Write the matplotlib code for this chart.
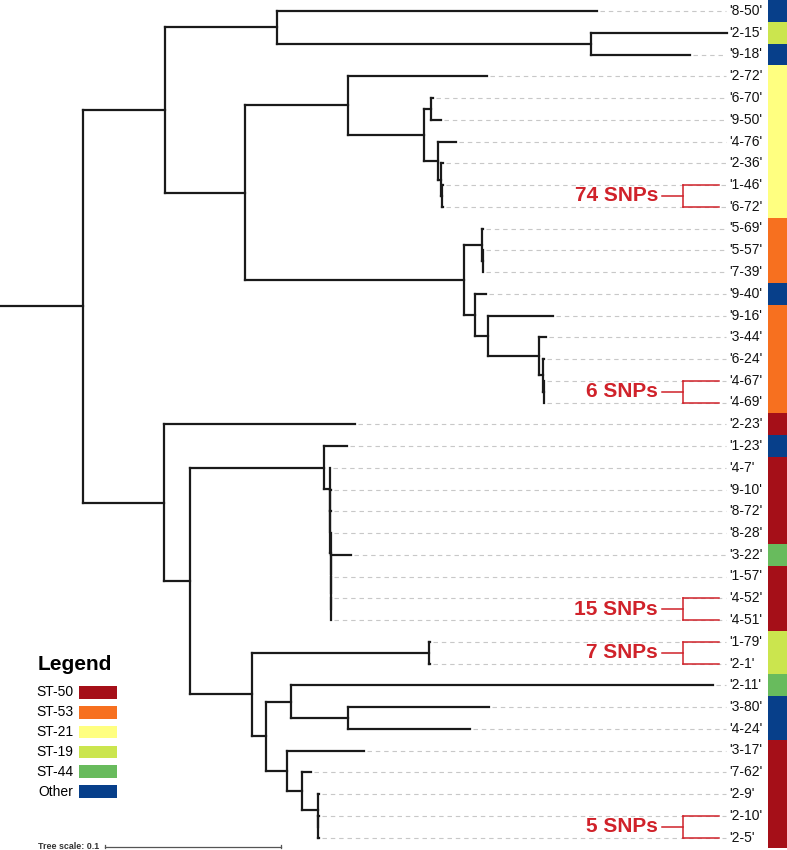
import matplotlib.pyplot as plt
from matplotlib.collections import LineCollection
from matplotlib.patches import Rectangle

plt.rcParams['font.family'] = ['Liberation Sans', 'DejaVu Sans']

# tree in newick, branch lengths in substitutions/site (tree scale bar = 0.1)
newick = """
((( 8-50:0.1818, (2-15:0.0773, 9-18:0.0563):0.1784 ):0.0639,
   (( 2-72:0.0790,
      (( 6-70:0.0011, 9-50:0.0057):0.0040,
       ( 4-76:0.0104, (2-36:0.0013, (1-46:0.0003, 6-72:0.0003):0.0007):0.0017):0.0078):0.0432):0.0588,
    (( 5-69:0.0009, (5-57:0.0003, 7-39:0.0003):0.0006):0.0099,
     ( 9-40:0.0061,
       ( 9-16:0.0368,
         ( 3-44:0.0036, (6-24:0.0002, (4-67:0.0002, 4-69:0.0002):0.0001):0.0024):0.0290):0.0074):0.0063):0.1247):0.0455):0.0463,
 ( 2-23:0.1084,
   (( 1-23:0.0131,
      ( 4-7:0.0002, (9-10:0.0002, (8-72:0.0002, (8-28:0.0002, (3-22:0.0117,
        (1-57:0.0002, (4-52:0.0002, 4-51:0.0002):0.0001):0.0001):0.0001):0.0001):0.0001):0.0001):0.0032):0.0763,
    (( 1-79:0.0001, 2-1:0.0001):0.1006,
     (( 2-11:0.2398, (3-80:0.0805, 4-24:0.0695):0.0324):0.0140,
      ( 3-17:0.0436, (7-62:0.0051, (2-9:0.0007, (2-10:0.0004, 2-5:0.0004):0.0003):0.0089):0.0082):0.0121):0.0078):0.0354):0.0146):0.0462):0.0472;
"""

# sequence type of each isolate, in tree order
leaf_order = ['8-50', '2-15', '9-18', '2-72', '6-70', '9-50', '4-76', '2-36', '1-46', '6-72',
              '5-69', '5-57', '7-39', '9-40', '9-16', '3-44', '6-24', '4-67', '4-69', '2-23',
              '1-23', '4-7', '9-10', '8-72', '8-28', '3-22', '1-57', '4-52', '4-51', '1-79',
              '2-1', '2-11', '3-80', '4-24', '3-17', '7-62', '2-9', '2-10', '2-5']
leaf_st = ['Other', 'ST-19', 'Other', 'ST-21', 'ST-21', 'ST-21', 'ST-21', 'ST-21', 'ST-21', 'ST-21',
           'ST-53', 'ST-53', 'ST-53', 'Other', 'ST-53', 'ST-53', 'ST-53', 'ST-53', 'ST-53', 'ST-50',
           'Other', 'ST-50', 'ST-50', 'ST-50', 'ST-50', 'ST-44', 'ST-50', 'ST-50', 'ST-50', 'ST-19',
           'ST-19', 'ST-44', 'Other', 'Other', 'ST-50', 'ST-50', 'ST-50', 'ST-50', 'ST-50']

st_names = ['ST-50', 'ST-53', 'ST-21', 'ST-19', 'ST-44', 'Other']
st_colors = ['#a50f18', '#f7701f', '#ffff80', '#cbe54e', '#68bb5d', '#073f8a']

snp_pairs = [('1-46', '6-72'), ('4-67', '4-69'), ('4-52', '4-51'), ('1-79', '2-1'), ('2-10', '2-5')]
snp_counts = [74, 6, 15, 7, 5]


def parse(s):
    s = ''.join(s.split())
    pos = 0

    def node():
        nonlocal pos
        children = []
        if s[pos] == '(':
            pos += 1
            while True:
                children.append(node())
                if s[pos] == ',':
                    pos += 1
                    continue
                pos += 1
                break
        start = pos
        while s[pos] not in ',():;':
            pos += 1
        name = s[start:pos]
        length = 0.0
        if s[pos] == ':':
            pos += 1
            start = pos
            while s[pos] not in ',();':
                pos += 1
            length = float(s[start:pos])
        return {'name': name, 'len': length, 'children': children}

    return node()


root = parse(newick)
leaves = []
segs = []


def layout(n, x0):
    n['x'] = x0 + n['len']
    if not n['children']:
        n['y'] = len(leaves)
        leaves.append(n)
    else:
        for c in n['children']:
            layout(c, n['x'])
        n['y'] = (n['children'][0]['y'] + n['children'][-1]['y']) / 2
    segs.append([(x0, n['y']), (n['x'], n['y'])])
    if n['children']:
        segs.append([(n['x'], n['children'][0]['y']), (n['x'], n['children'][-1]['y'])])


layout(root, 0.0)
pos = {lf['name']: (lf['x'], lf['y']) for lf in leaves}

# px -> tree units: 176 px per 0.1
S = 1760.0
fig = plt.figure(figsize=(7.87, 8.5), dpi=100)
ax = fig.add_axes([0, 0, 1, 1])
ax.set_xlim(0, 787 / S)
ax.set_ylim((850 - 11) / 21.75, -11 / 21.75)
ax.set_axis_off()

# dashed leader lines + labels
label_x = 729 / S
for name, (x, y) in pos.items():
    if label_x - x > 6 / S:
        ax.plot([x + 3 / S, label_x - 3 / S], [y, y], color='#c8c8c8', lw=0.8,
                dashes=(4, 3.5), zorder=1)
    ax.text(label_x, y, f"'{name}'", fontsize=10, va='center', ha='left', color='#111111')

ax.add_collection(LineCollection(segs, colors='#1a1a1a', linewidths=1.6,
                                 capstyle='projecting', zorder=3))

# ST colour strip
cmap = dict(zip(st_names, st_colors))
ax.barh(range(len(leaf_order)), 787 / S - 767.5 / S, left=767.5 / S, height=1.0,
        color=[cmap[s] for s in leaf_st], linewidth=0)

# SNP brackets
red = '#d0222a'
for (a, b), n in zip(snp_pairs, snp_counts):
    ya, yb = pos[a][1], pos[b][1]
    ym = (ya + yb) / 2
    ax.plot([683 / S, 719 / S], [ya, ya], color=red, lw=1.1)
    ax.plot([683 / S, 719 / S], [yb, yb], color=red, lw=1.1)
    ax.plot([683 / S, 683 / S], [ya, yb], color=red, lw=1.1)
    ax.plot([662 / S, 683 / S], [ym, ym], color=red, lw=1.1)
    ax.text(658 / S, ym, f'{n} SNPs', color=red, fontsize=15, fontweight='bold',
            ha='right', va='center')

# legend
fig.text(38 / 787, 1 - 665 / 850, 'Legend', fontsize=15, fontweight='bold', va='center', ha='left')
for k, (nm, col) in enumerate(zip(st_names, st_colors)):
    yc = 692.5 + 19.8 * k
    fig.text(73 / 787, 1 - yc / 850, nm, fontsize=10, ha='right', va='center')
    fig.patches.append(Rectangle((79 / 787, 1 - (yc + 6.3) / 850), 38 / 787, 12.6 / 850,
                                 transform=fig.transFigure, facecolor=col, edgecolor='none'))

# tree scale
ybar = (846.5 - 11) / 21.75
x0 = 105 / S
ax.plot([x0, x0 + 0.1], [ybar, ybar], color='#555555', lw=0.9)
for xx in (x0, x0 + 0.1):
    ax.plot([xx, xx], [ybar - 0.09, ybar + 0.09], color='#555555', lw=0.9)
ax.text(38 / S, ybar, 'Tree scale: 0.1', fontsize=6.4, fontweight='bold', color='#333333',
        ha='left', va='center')

fig.savefig('out.png', dpi=100)
